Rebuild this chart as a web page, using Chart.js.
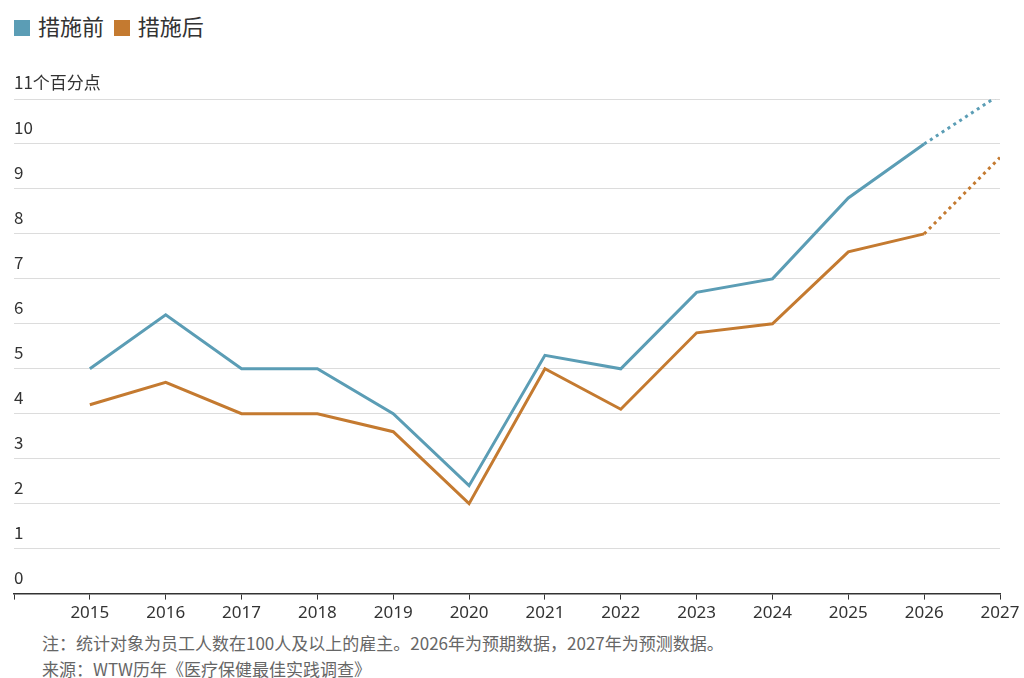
<!DOCTYPE html>
<html><head><meta charset="utf-8">
<script src="https://cdn.jsdelivr.net/npm/chart.js@4"></script>
<style>
body{margin:0;background:#fff;font-family:"Noto Sans CJK SC","Noto Sans",sans-serif;color:#333;width:1024px;height:678px;overflow:hidden;position:relative}
#lg{position:absolute;left:14px;top:9px;font-size:22px;color:#333}
#lg span.b{display:inline-block;width:16px;height:16px;margin-right:8px;vertical-align:-1px}
#wrap{position:absolute;left:0;top:62px;width:1024px;height:564px}
#note{position:absolute;left:42px;top:630px;font-size:17px;color:#666;line-height:26px}
</style></head><body>
<div id="lg"><span class="b" style="background:#5b9db5"></span>措施前 &nbsp;<span class="b" style="background:#c47a30"></span>措施后</div>
<div id="wrap"><canvas id="c"></canvas></div>
<div id="note">注：统计对象为员工人数在100人及以上的雇主。2026年为预期数据，2027年为预测数据。<br>来源：WTW历年《医疗保健最佳实践调查》</div>
<script>
var years = [2015,2016,2017,2018,2019,2020,2021,2022,2023,2024,2025,2026,2027];
var before = [5,6.2,5,5,4,2.4,5.3,5,6.7,7,8.8,10,11.1];
var after = [4.2,4.7,4,4,3.6,2,5,4.1,5.8,6,7.6,8,9.7];
function pts(a){ return a.map(function(v,i){ return {x:years[i], y:v}; }); }
var dash = function(ctx){ return ctx.p0.parsed.x >= 2026 ? [3,4] : undefined; };
new Chart(document.getElementById('c'), {
	type: 'line',
	data: {
		datasets: [
			{ label:'措施前', data: pts(before), borderColor:'#5b9db5', borderWidth:3, pointRadius:0, segment:{borderDash:dash} },
			{ label:'措施后', data: pts(after), borderColor:'#c47a30', borderWidth:3, pointRadius:0, segment:{borderDash:dash} }
		]
	},
	options: {
		responsive:true, maintainAspectRatio:false, animation:false,
		layout:{padding:{left:14,right:24,top:37}},
		plugins:{legend:{display:false},tooltip:{enabled:false}},
		scales:{
			x:{ type:'linear', min:2014, max:2027,
				grid:{drawOnChartArea:false, color:'#333', tickLength:6},
				border:{color:'#333', width:1.5},
				ticks:{stepSize:1, color:'#333', font:{size:17, family:'"Noto Sans", sans-serif'},
					callback:function(v){ return v===2014 ? '' : String(v); } } },
			y:{ min:0, max:11,
				grid:{color:'#dcdcdc', drawTicks:false},
				border:{display:false},
				ticks:{stepSize:1, mirror:true, padding:0, labelOffset:-16, color:'#333',
					font:{size:17, family:'"Noto Sans CJK SC", sans-serif'},
					callback:function(v){ return v===11 ? '11个百分点' : v; } } }
		}
	}
});
</script>
</body></html>
